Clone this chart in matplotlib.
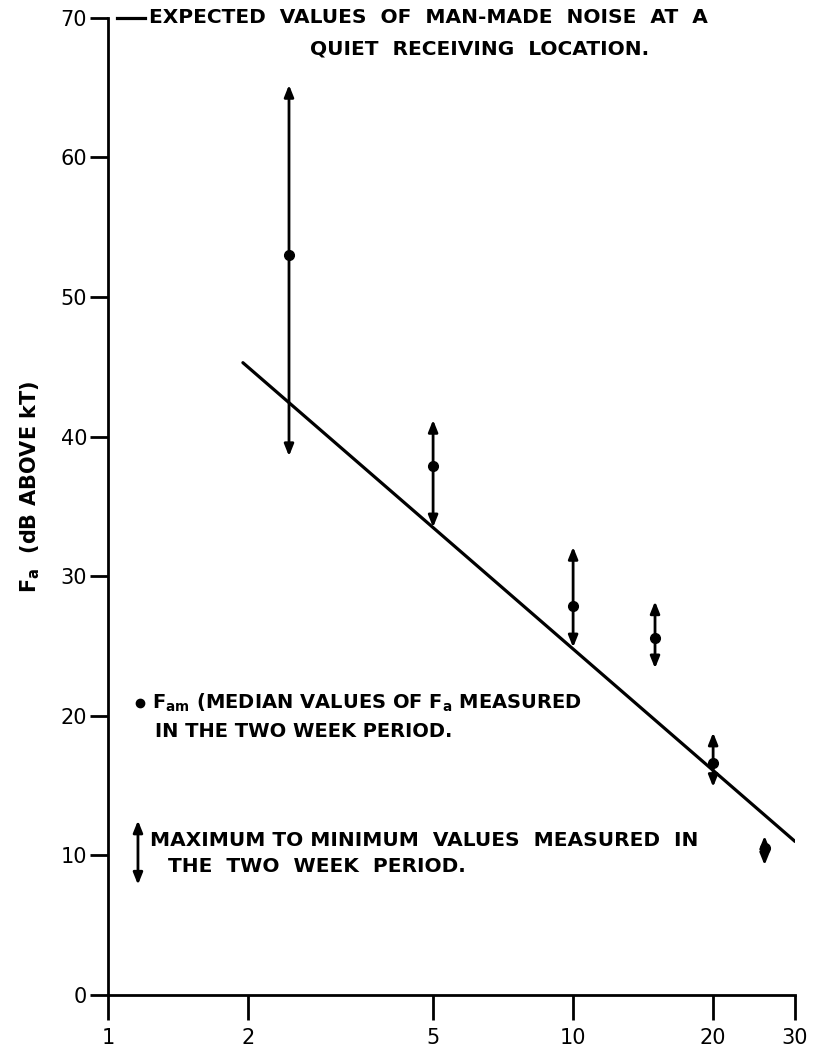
import numpy as np
import matplotlib.pyplot as plt

# frequency (MHz) of each measurement and the Fa values (dB above kT)
freq = [2.45, 5.0, 10.0, 15.0, 20.0, 25.8]
fam_median = [53.0, 37.9, 27.9, 25.6, 16.6, 10.5]
fa_max = [65.2, 41.2, 32.1, 28.2, 18.8, 11.4]
fa_min = [38.6, 33.5, 24.9, 23.4, 14.9, 9.3]

# expected man-made noise line (quiet receiving location)
line_freq = [1.95, 30.0]
line_fa = [45.3, 11.0]

x_ticks = [1, 2, 5, 10, 20, 30]
y_ticks = [0, 10, 20, 30, 40, 50, 60, 70]

plt.rcParams['font.family'] = ['DejaVu Sans']

fig = plt.figure(figsize=(8.15, 10.54), dpi=100)
ax = fig.add_axes([0.1325, 0.056, 0.843, 0.927])

ax.plot(line_freq, line_fa, color='black', lw=2.3, solid_capstyle='round')

arrow = dict(arrowstyle='<|-|>,head_length=0.7,head_width=0.28',
             lw=2, color='black', shrinkA=0, shrinkB=0)
for x, lo, hi in zip(freq, fa_min, fa_max):
    ax.annotate('', xy=(x, hi), xytext=(x, lo), arrowprops=arrow)
ax.plot(freq, fam_median, 'o', color='black', ms=7, zorder=5)

ax.set_xscale('log')
ax.set_xlim(1, 30)
ax.set_ylim(0, 70)
ax.set_xticks(x_ticks)
ax.set_xticklabels([str(t) for t in x_ticks])
ax.xaxis.set_minor_locator(plt.NullLocator())
ax.set_yticks(y_ticks)

for s in ['top', 'right']:
    ax.spines[s].set_visible(False)
for s in ['left', 'bottom']:
    ax.spines[s].set_linewidth(2)
ax.tick_params(axis='x', direction='out', length=18, width=2, labelsize=15, pad=6)
ax.tick_params(axis='y', direction='out', length=13, width=2, labelsize=15, pad=2)

txt = dict(fontsize=14.5, fontweight='bold', va='center', ha='left')

fig.text(0.037, 0.538, r'F$_\mathbf{a}$  (dB ABOVE kT)', rotation=90,
         ha='center', va='center', fontsize=15, fontweight='bold')

# legend: expected values line
ax.plot([1.045, 1.2], [70, 70], color='black', lw=2.3, clip_on=False)
ax.text(1.225, 70, 'EXPECTED  VALUES  OF  MAN-MADE  NOISE  AT  A', **txt)
ax.text(2.72, 67.8, 'QUIET  RECEIVING  LOCATION.', **txt)

# legend: median dot
ax.plot([1.172], [20.9], 'o', color='black', ms=6)
ax.text(1.243, 20.9, r'F$_\mathbf{am}$ (MEDIAN VALUES OF F$_\mathbf{a}$ MEASURED',
        **dict(txt, fontsize=14))
ax.text(1.262, 18.9, 'IN THE TWO WEEK PERIOD.', **dict(txt, fontsize=14))

# legend: max/min arrow
ax.annotate('', xy=(1.16, 12.5), xytext=(1.16, 7.9), arrowprops=arrow)
ax.text(1.231, 11.1, 'MAXIMUM TO MINIMUM  VALUES  MEASURED  IN', **txt)
ax.text(1.346, 9.2, 'THE  TWO  WEEK  PERIOD.', **txt)

fig.savefig('out.png', dpi=100, facecolor='white')
